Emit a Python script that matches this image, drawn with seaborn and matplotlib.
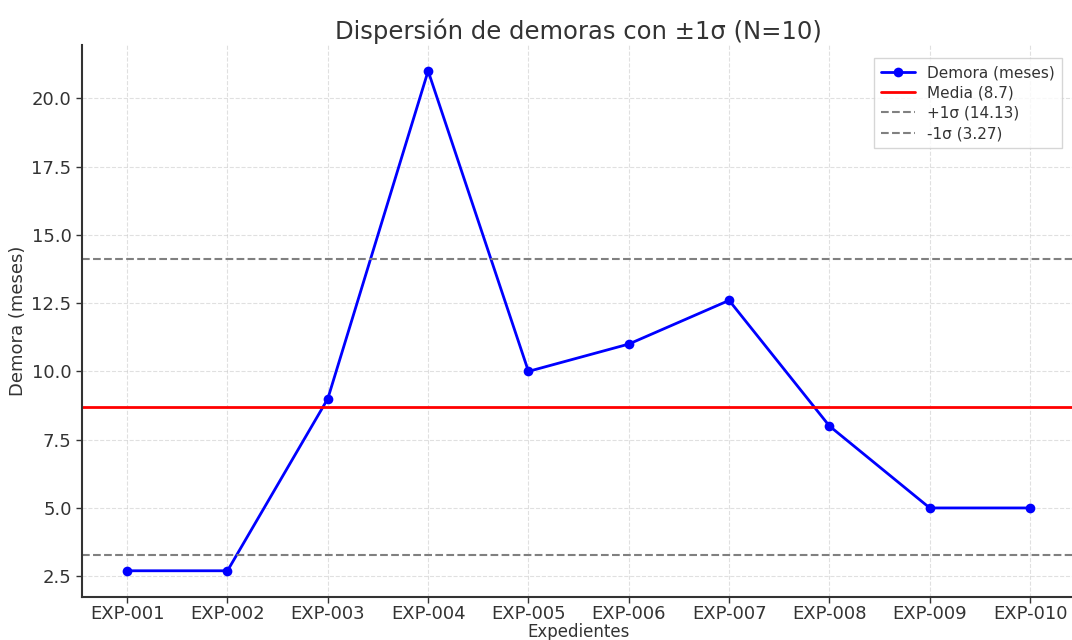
import pandas as pd
import matplotlib
matplotlib.use('Agg')
import matplotlib.pyplot as plt
import seaborn as sns

expedientes = ['EXP-001', 'EXP-002', 'EXP-003', 'EXP-004', 'EXP-005',
               'EXP-006', 'EXP-007', 'EXP-008', 'EXP-009', 'EXP-010']
demoras = [2.7, 2.7, 9.0, 21.0, 10.0, 11.0, 12.6, 8.0, 5.0, 5.0]
media = 8.7
sigma_sup = 14.13
sigma_inf = 3.27

df = pd.DataFrame({'Expediente': expedientes, 'Demora': demoras})

sns.set_style('white')
plt.rcParams['font.family'] = ['DejaVu Sans']

fig = plt.figure(figsize=(10.72, 6.4), dpi=100)
ax = fig.add_axes([0.0765, 0.0672, 0.9265, 0.8625])

sns.lineplot(data=df, x='Expediente', y='Demora', ax=ax, color='blue', marker='o',
             markersize=7, markeredgewidth=0, linewidth=2, label='Demora (meses)', sort=False)
ax.axhline(media, color='red', linewidth=2, label=f'Media ({media})')
ax.axhline(sigma_sup, color='gray', linestyle='--', linewidth=1.5, label=f'+1σ ({sigma_sup})')
ax.axhline(sigma_inf, color='gray', linestyle='--', linewidth=1.5, label=f'-1σ ({sigma_inf})')

ax.set_title('Dispersión de demoras con ±1σ (N=10)', fontsize=17.5, color='#333333', pad=4)
ax.set_xlabel('Expedientes', fontsize=12, color='#333333', labelpad=0)
ax.set_ylabel('Demora (meses)', fontsize=13, color='#333333', labelpad=3)
ax.tick_params(axis='both', labelsize=13, colors='#333333', length=4, width=1, bottom=True, left=True)
ax.tick_params(axis='x', pad=2)
ax.grid(True, linestyle='--', color='#cccccc', alpha=0.6, linewidth=0.8)
ax.set_ylim(1.74, 21.95)
ax.set_xlim(-0.45, 9.45)

for s in ['top', 'right']:
    ax.spines[s].set_visible(False)
for s in ['left', 'bottom']:
    ax.spines[s].set_color('#333333')
    ax.spines[s].set_linewidth(1.5)

leg = ax.legend(loc='upper right', bbox_to_anchor=(0.994, 0.99), fontsize=11,
                frameon=True, fancybox=False, edgecolor='#cccccc', labelspacing=0.35,
                handlelength=2.2, borderpad=0.45)
for t in leg.get_texts():
    t.set_color('#333333')

fig.savefig('out.png', dpi=100)
